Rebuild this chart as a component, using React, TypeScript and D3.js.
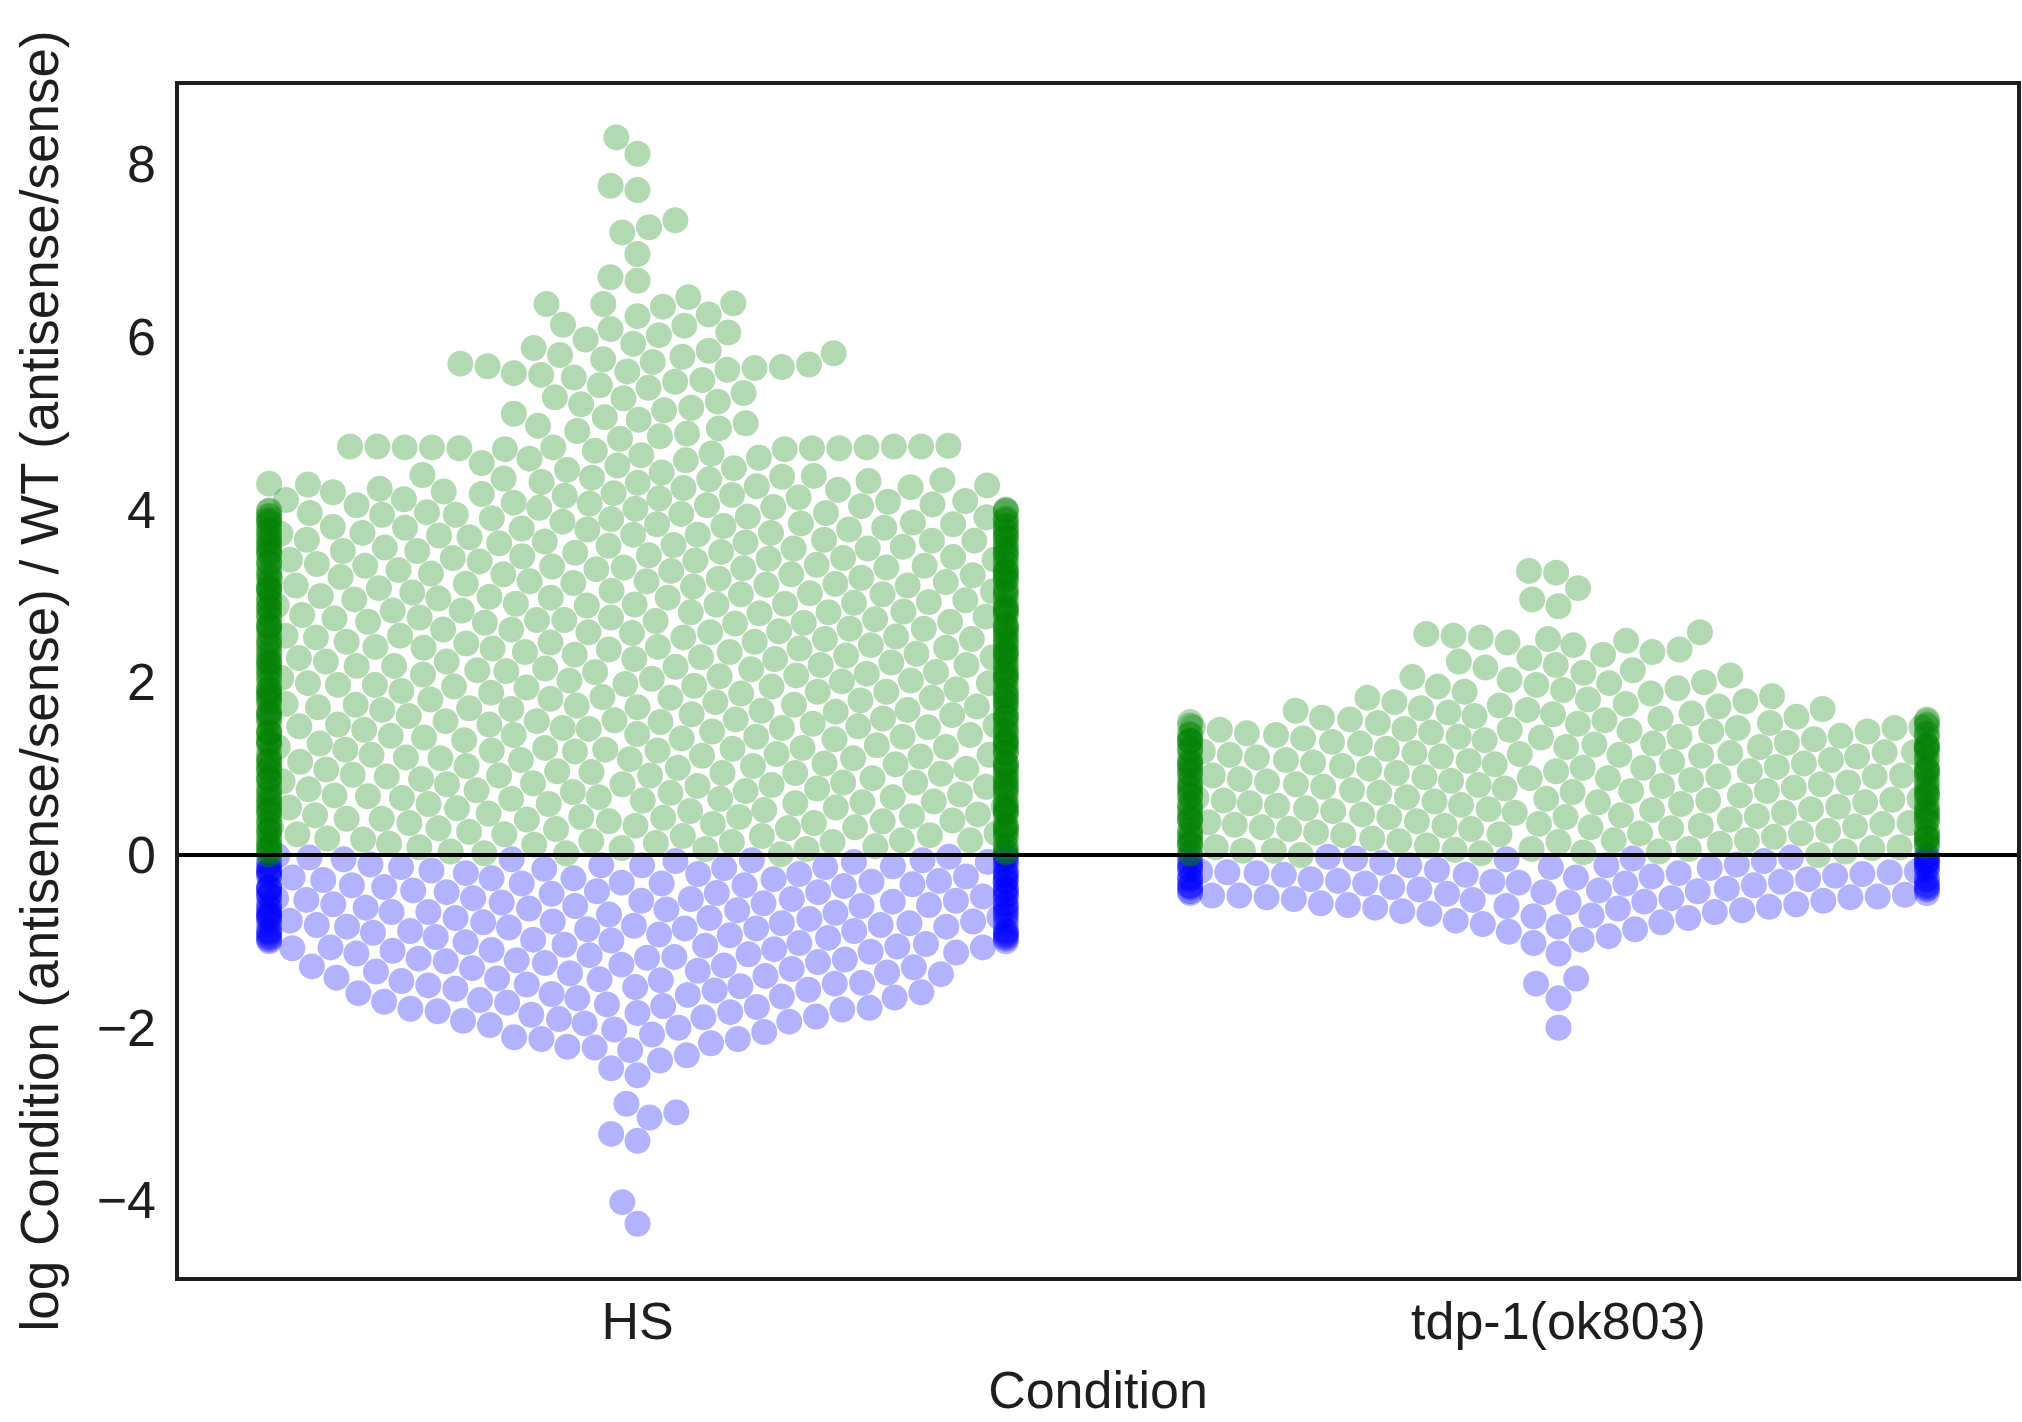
import React, { useMemo } from "react";
import * as d3 from "d3";

const categories: string[] = ["HS", "tdp-1(ok803)"];
const yTicks: number[] = [-4, -2, 0, 2, 4, 6, 8];
const xTitle = "Condition";
const yTitle = "log Condition (antisense/sense) / WT (antisense/sense)";

// Number of points found at each 0.01 step of the value.
// Each string covers one unit, starting at the group's start value.
const hsStart = -5;
const hsCounts: string[] = [
    "0000000000 0000000000 0000000000 0000000000 0000000000 0000000000 0000000000 0001000000 0000000000 0000000010",
    "0000000000 0000000000 0000000000 0000000000 0000000000 0000000000 0000000001 0000000100 0000000000 0000001000",
    "0010000000 0010000000 0000000000 0000000000 0000010000 0001000000 0010000010 0000100110 0010000201 0010010010",
    "1001010110 1011010111 0111110101 1010111011 1101110111 1110111110 1011111011 1111011111 1110111111 1112111111",
    "2121221212 1222121212 2212121221 2121212122 1221221212 2121221212 1222121212 2212121221 2121212122 1221221212",
    "1222121212 2212121221 2121212122 1221221212 2121221212 1222121212 2212121221 2121212122 1221221212 2121221212",
    "2212121221 2121212122 1221221212 2121221212 1222121212 2212121221 2121212122 1221221212 2121221212 1222121212",
    "2121212122 1221221212 2121221212 1222121212 2212121221 2121212122 1221221212 2121221212 1222121212 2212121221",
    "1221221212 2121221212 1222121212 2212121221 2121212122 1221221212 2121221212 1222121212 2212121221 2121212122",
    "1111121111 1111101111 1101111111 1111111111 1001001010 0100100101 1001010010 2344100000 0010010010 0100100100",
    "1000100100 0100010010 0010010001 1000010000 0100100010 1001001010 1010111011 0100100101 0100100100 0010000100",
    "0010010001 0001100000 0000101000 0000010021 0000001000 0000000000 0000010001 0000000000 0000000000 0000001000",
    "0000000000 0000000000 0100000100 0000010000 0000000000 0000000000 0000000000 1000010000 0000000000 0000000000",
    "0000000000 0010000000 0000000000 0100000000",
];

const tdpStart = -2;
const tdpCounts: string[] = [
    "1000000000 0000000000 0000000000 0000100000 0000000000 0100000100 0000000000 0000000000 0000001000 0000000010",
    "0010001000 0100100100 1010100101 1010111011 1111111111 1212112121 2121221212 1222121212 2212121221 2121212122",
    "2121221212 1222121212 2212121221 2121212122 2121221212 1222121212 2212121221 2121212122 2121221212 1222121212",
    "2212121221 2121212122 2121221212 1222121212 2212121221 1112111211 1101110111 1011010110 1010100101 0101010101",
    "1001001010 0100100100 1000100010 0010010010 0001001010 1010101010 0000000000 0000000000 0000000010 0000001000",
    "0000000001 0000000000 0000000101",
];

const W = 2022, H = 1422;
const frame = { left: 177, right: 2019, top: 83, bottom: 1279 };
const FONT = "'Liberation Sans', Arial, sans-serif";
const INK = "#1e1e1e";
const DIAM = 26;   // marker diameter in px

type Pt = { v: number, py: number, dx: number };

function expand(start: number, rows: string[]): number[] {
    const out: number[] = [];
    rows.forEach((row, k) => {
        const digits = row.replace(/ /g, "");
        for (let i = 0; i < digits.length; i++) {
            const n = Number(digits[i]);
            const v = Math.round((start + k) * 100 + i) / 100;
            for (let j = 0; j < n; j++) out.push(v);
        }
    });
    return out;
}

// seaborn-style beeswarm: sorted by value, each point goes to the free spot nearest the midline
function beeswarm(values: number[], y: d3.ScaleLinear<number, number>, d: number, half: number): Pt[] {
    const pts: Pt[] = values.map(v => ({ v, py: y(v), dx: 0 })).sort((a, b) => a.v - b.v);
    const placed: Pt[] = [];
    for (const p of pts) {
        const nb: Pt[] = [];
        for (let j = placed.length - 1; j >= 0; j--) {
            if (placed[j]!.py - p.py < d) nb.push(placed[j]!);
            else break;
        }
        const left: number[] = [], right: number[] = [];
        for (const q of nb) {
            const dy = q.py - p.py;
            const dx = Math.sqrt(Math.max(d * d - dy * dy, 0)) * 1.05;
            left.push(q.dx - dx);
            right.push(q.dx + dx);
        }
        const cands = [0, ...left, ...right];
        const order = cands.map((_, i) => i)
            .sort((a, b) => Math.abs(cands[a]!) - Math.abs(cands[b]!) || a - b);
        for (const i of order) {
            const c = cands[i]!;
            let ok = true;
            for (const q of nb) {
                const ex = q.dx - c, ey = q.py - p.py;
                if (ex * ex + ey * ey < d * d - 1e-6) { ok = false; break; }
            }
            if (ok) { p.dx = c; break; }
        }
        placed.push(p);
    }
    // points that do not fit go to the gutter
    for (const p of pts) p.dx = Math.max(-half, Math.min(half, p.dx));
    return pts;
}

export default function App() {
    const y = d3.scaleLinear().domain([-4.91, 8.94]).range([frame.bottom, frame.top]);
    const x = d3.scalePoint<string>().domain(categories).range([frame.left, frame.right]).padding(0.5);
    const half = x.step() * 0.8 / 2;

    const groups = useMemo(() => {
        const data = [expand(hsStart, hsCounts), expand(tdpStart, tdpCounts)];
        return data.map((vals, gi) => ({ cat: categories[gi]!, pts: beeswarm(vals, y, DIAM, half) }));
    }, []);

    return (
        <svg width={W} height={H} style={{ position: "absolute", left: 0, top: 0, background: "white" }}
            fontFamily={FONT}>
            <rect x={0} y={0} width={W} height={H} fill="white" />
            {groups.map(g => (
                <g key={g.cat} transform={`translate(${x(g.cat)},0)`}>
                    {g.pts.map((p, i) => (
                        <circle key={i} cx={p.dx} cy={p.py} r={DIAM / 2}
                            fill={p.v >= 0 ? "#008000" : "#0000ff"} fillOpacity={0.3} />
                    ))}
                </g>
            ))}
            <line x1={frame.left} x2={frame.right} y1={y(0)} y2={y(0)} stroke="#000" strokeWidth={4} />
            <rect x={frame.left} y={frame.top} width={frame.right - frame.left} height={frame.bottom - frame.top}
                fill="none" stroke={INK} strokeWidth={4} />
            {yTicks.map(t => (
                <text key={t} x={156} y={y(t)} textAnchor="end" dominantBaseline="central"
                    fontSize={52} fill={INK}>{t < 0 ? `\u2212${-t}` : `${t}`}</text>
            ))}
            {categories.map(c => (
                <text key={c} x={x(c)} y={1339} textAnchor="middle" fontSize={52} fill={INK}>{c}</text>
            ))}
            <text x={(frame.left + frame.right) / 2} y={1408} textAnchor="middle" fontSize={52} fill={INK}>{xTitle}</text>
            <text transform={`translate(58,${(frame.top + frame.bottom) / 2}) rotate(-90)`} textAnchor="middle"
                fontSize={53} fill={INK}>{yTitle}</text>
        </svg>
    );
}
